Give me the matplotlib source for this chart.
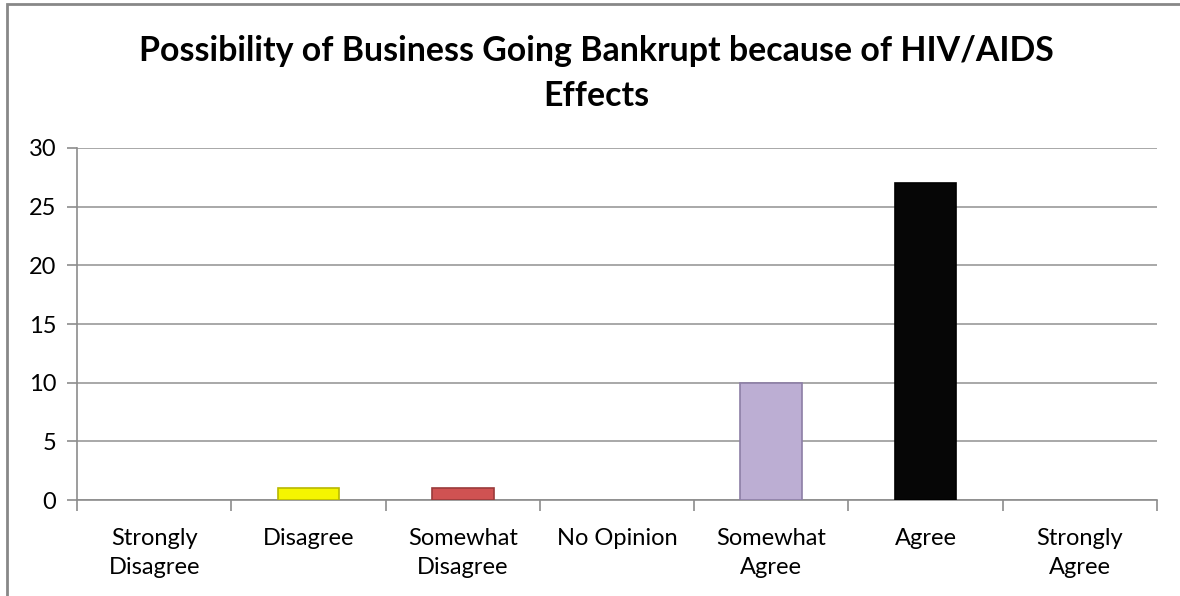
import matplotlib.pyplot as plt
from matplotlib.patches import Rectangle

categories = ["Strongly\nDisagree", "Disagree", "Somewhat\nDisagree", "No Opinion",
              "Somewhat\nAgree", "Agree", "Strongly\nAgree"]
values = [0, 1, 1, 0, 10, 27, 0]
colors = ["#4f81bd", "#f5f500", "#d05252", "#9bbb59", "#bcaed3", "#060606", "#4bacc6"]
edges = ["#3a6190", "#b8b800", "#9a3a3a", "#76923c", "#8c7ea6", "#000000", "#31859c"]
yticks = [0, 5, 10, 15, 20, 25, 30]

plt.rcParams['font.family'] = ['Lato', 'DejaVu Sans']

fig = plt.figure(figsize=(11.8, 5.96), dpi=100)
ax = fig.add_axes([0.0653, 0.161, 0.9152, 0.5907])

x = list(range(len(categories)))
# empty categories get no outline so nothing shows on the baseline
widths = [1.2 if v else 0 for v in values]
ax.bar(x, values, width=0.4, color=colors, edgecolor=edges, linewidth=widths, zorder=3)

ax.set_xlim(-0.5, len(categories) - 0.5)
ax.set_ylim(0, 30)
ax.set_yticks(yticks)
ax.set_yticklabels([str(v) for v in yticks], fontsize=17)
ax.set_xticks(x)
ax.set_xticklabels(categories, fontsize=17, linespacing=1.5)
ax.set_xticks([i + 0.5 for i in range(-1, len(categories))], minor=True)

ax.tick_params(axis='x', which='major', length=0, pad=20)
ax.tick_params(axis='x', which='minor', length=8, color='#8c8c8c', width=1.2)
ax.tick_params(axis='y', length=7, color='#8c8c8c', width=1.2, pad=8)

ax.yaxis.grid(True, color='#9a9a9a', linewidth=1.2, zorder=0)
for side in ['top', 'right']:
    ax.spines[side].set_visible(False)
for side in ['left', 'bottom']:
    ax.spines[side].set_color('#8c8c8c')
    ax.spines[side].set_linewidth(1.2)

fig.text(0.505, 0.877, "Possibility of Business Going Bankrupt because of HIV/AIDS\nEffects",
         ha='center', va='center', fontsize=24.4, fontweight='bold', linespacing=1.5)

# outer chart frame, clipped by the figure edges on right and bottom
fig.patches.append(Rectangle((7 / 1180, -0.05), 1.1, (596 - 4) / 596 + 0.05,
                             transform=fig.transFigure, fill=False,
                             edgecolor='#888888', linewidth=2))

fig.savefig("out.png", dpi=100)
